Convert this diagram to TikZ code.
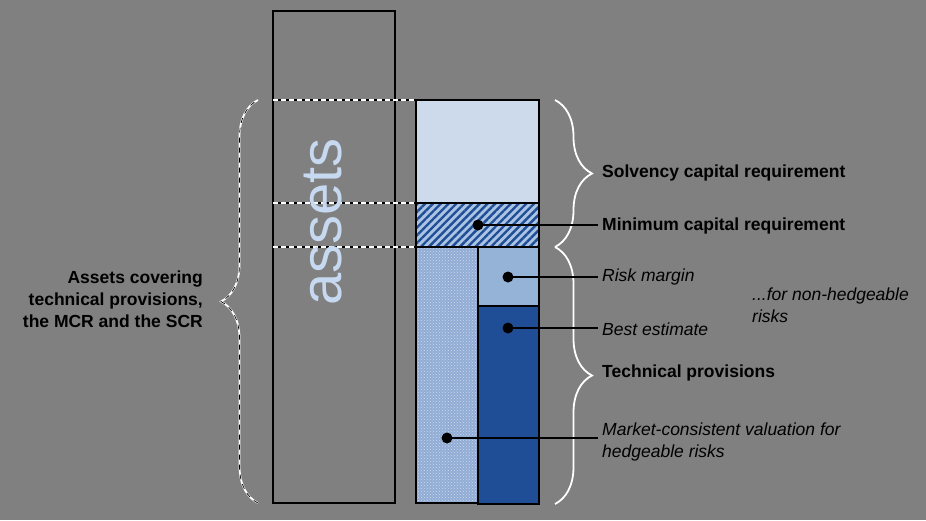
\documentclass[tikz,border=0pt]{standalone}
\usepackage{fontspec}
\setmainfont{Liberation Sans}
\usepackage{tikz}
\usetikzlibrary{positioning,calc,decorations.pathreplacing,patterns,patterns.meta}
\definecolor{bggray}{RGB}{128,128,128}
\definecolor{scrblue}{RGB}{204,218,236}
\definecolor{rmblue}{RGB}{149,179,215}
\definecolor{beblue}{RGB}{31,78,150}
\definecolor{hatchlight}{RGB}{172,196,228}
\definecolor{dotsblue}{RGB}{145,172,212}
\definecolor{dotslight}{RGB}{205,218,238}
\definecolor{assetblue}{RGB}{198,217,240}

\begin{document}
\begin{tikzpicture}[x=1pt, y=-1pt,
  lbl/.style={anchor=west, inner sep=4pt, font=\fontsize{17.5}{22}\selectfont},
  lblb/.style={lbl, font=\fontsize{17.5}{22}\selectfont\bfseries},
  lbli/.style={lbl, font=\fontsize{17.5}{21.5}\selectfont\itshape, align=left},
  block/.style={draw=black, line width=1.1pt},
  guideline/.style={line width=1.6pt, draw=black},
  guidedash/.style={line width=1.4pt, draw=white, dash pattern=on 5pt off 3pt},
  bracewhite/.style={decorate, decoration={brace, amplitude=37pt}, draw=white, line width=1.8pt},
  braceblack/.style={decorate, decoration={brace, amplitude=37pt}, draw=black, line width=0.7pt, dash pattern=on 5pt off 5pt},
  dot/.style={circle, fill=black, inner sep=0pt, minimum size=11pt},
  leader/.style={line width=1.7pt, draw=black}]
  \fill[bggray] (0, 0) rectangle (926, 520);
  \useasboundingbox (0, 0) rectangle (926, 520);

  \draw[line width=2pt] (273, 11) rectangle (395, 503);

  \draw[block, fill=scrblue] (416, 100) rectangle (539, 203);
  \fill[hatchlight] (416, 203) rectangle (539, 247);
  \fill[pattern={Lines[angle=45, distance=5.5pt, line width=2.4pt]}, pattern color=beblue] (416, 203) rectangle (539, 247);
  \draw[block] (416, 203) rectangle (539, 247);
  \fill[dotsblue] (416, 247) rectangle (478, 503);
  \fill[pattern=crosshatch dots, pattern color=dotslight] (416, 247) rectangle (478, 503);
  \draw[block] (416, 247) rectangle (478, 503);
  \draw[block, fill=rmblue] (478, 247) rectangle (539, 306);
  \draw[block, fill=beblue] (478, 306) rectangle (539, 504);

  \foreach \yy in {100, 203, 247} {
    \draw[guideline] (273, \yy) -- (416, \yy);
    \draw[guidedash] (273, \yy) -- (416, \yy);
  }

  \node[rotate=90, text=assetblue, font=\fontsize{58}{58}\selectfont] (assetsword) at (323, 222) {assets};

  \draw[bracewhite] (258, 503) -- (258, 100);
  \draw[braceblack] (258, 503) -- (258, 100);
  \draw[bracewhite] (555, 100) -- (555, 247);
  \draw[bracewhite] (555, 247) -- (555, 504);

  \node[lblb, anchor=east, align=right] (covering) at (207, 299) {Assets covering\\technical provisions,\\the MCR and the SCR};
  \node[lblb] (scr) at (598, 173) {Solvency capital requirement};
  \node[lblb] (mcr) at (598, 226) {Minimum capital requirement};
  \node[lbli] (rm) at (598, 277) {Risk margin};
  \node[lbli] (be) at (598, 329) {Best estimate};
  \node[lbli] (nonhedge) at (748, 305) {...for non-hedgeable\\risks};
  \node[lblb] (tp) at (598, 373) {Technical provisions};
  \node[lbli] (mcv) at (598, 442) {Market-consistent valuation for\\hedgeable risks};

  \node[dot] (mcrdot) at (478, 225) {};
  \node[dot] (rmdot) at (508, 277) {};
  \node[dot] (bedot) at (508, 328) {};
  \node[dot] (mcvdot) at (447, 438) {};
  \draw[leader] (mcrdot.center) -- (mcrdot.center -| mcr.west);
  \draw[leader] (rmdot.center) -- (rmdot.center -| rm.west);
  \draw[leader] (bedot.center) -- (bedot.center -| be.west);
  \draw[leader] (mcvdot.center) -- (mcvdot.center -| mcv.west);
\end{tikzpicture}
\end{document}
